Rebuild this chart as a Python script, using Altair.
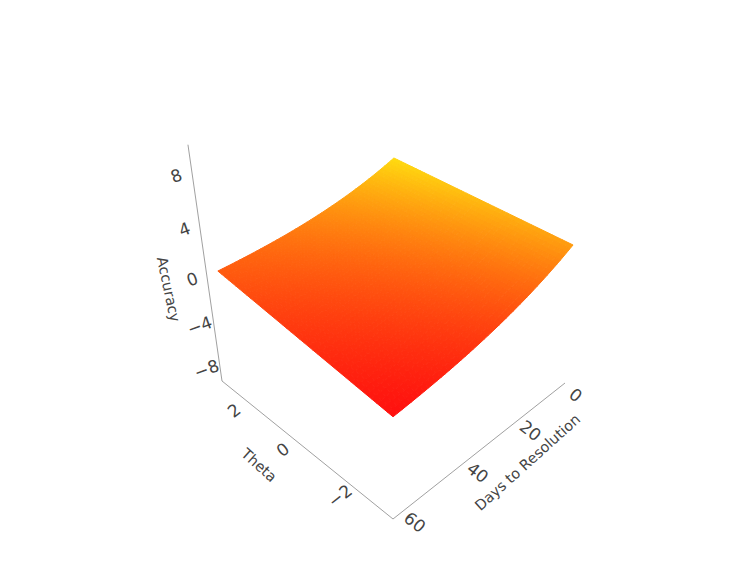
import altair as alt
import numpy as np
import pandas as pd

# ---- values ----
DAYS = [0, 10, 20, 30, 40, 50, 60]
ACC_THETA_LOW = [2.56, 1.22, 0.12, -0.80, -1.50, -2.05, -2.52]
ACC_THETA_HIGH = [4.84, 3.62, 2.62, 1.80, 1.15, 0.63, 0.22]
THETA_ENDS = [-3, 3]
DAY_TICKS = [0, 20, 40, 60]
THETA_TICKS = [-2, 0, 2]
ACC_TICKS = [-8, -4, 0, 4, 8]

# ---- axis ranges and the view (a projective camera) ----
DAY_RANGE = (62, -2)
THETA_RANGE = (-3.2, 3.2)
ACC_RANGE = (-10, 10)
W, H = 738, 551
TEXT = "#444444"
FONT = "DejaVu Sans"


def project(d, t, z):
    u = (DAY_RANGE[0] - d) / (DAY_RANGE[0] - DAY_RANGE[1])
    v = (t - THETA_RANGE[0]) / (THETA_RANGE[1] - THETA_RANGE[0])
    w = (z - ACC_RANGE[0]) / (ACC_RANGE[1] - ACC_RANGE[0])
    h = 1 + 0.3 * (u + v) - 0.2158 * w
    return (385 + (223.6 * u - 222.3 * v) / h,
            511 + (-176.8 * u - 179.4 * v - 226.4 * w) / h)


# surface mesh
low = np.poly1d(np.polyfit(DAYS, ACC_THETA_LOW, 3))
high = np.poly1d(np.polyfit(DAYS, ACC_THETA_HIGH, 3))
dd = np.linspace(DAYS[0], DAYS[-1], 49)
ss = np.linspace(0, 1, 41)
tt = THETA_ENDS[0] + ss * (THETA_ENDS[1] - THETA_ENDS[0])
features = []
for i in range(len(dd) - 1):
    for j in range(len(ss) - 1):
        corners = [(i, j), (i + 1, j), (i + 1, j + 1), (i, j + 1)]
        ring, zs = [], []
        for a, b in corners:
            z = float(low(dd[a]) * (1 - ss[b]) + high(dd[a]) * ss[b])
            x, y = project(dd[a], tt[b], z)
            ring.append([round(float(x), 2), round(float(y), 2)])
            zs.append(z)
        ring.append(ring[0])
        features.append({"type": "Feature",
                         "geometry": {"type": "Polygon", "coordinates": [ring]},
                         "properties": {"z": sum(zs) / 4}})

color_scale = alt.Scale(domain=[min(ACC_THETA_LOW), max(ACC_THETA_HIGH)],
                        range=["#ff0f0f", "#ffdc0f"], interpolate="rgb")
surface = (
    alt.Chart(alt.Data(values=features))
    .mark_geoshape(strokeWidth=1)
    .encode(
        color=alt.Color("properties.z:Q", scale=color_scale, legend=None),
        stroke=alt.Stroke("properties.z:Q", scale=color_scale, legend=None),
    )
    .project(type="identity", scale=1, translate=[0, 0])
)

xs = alt.Scale(domain=[0, W], nice=False, zero=False)
ys = alt.Scale(domain=[H, 0], nice=False, zero=False)
xe = alt.X("x:Q", scale=xs, axis=None)
ye = alt.Y("y:Q", scale=ys, axis=None)

# axis lines
path = [(DAY_RANGE[1], THETA_RANGE[0], ACC_RANGE[0]),
        (DAY_RANGE[0], THETA_RANGE[0], ACC_RANGE[0]),
        (DAY_RANGE[0], THETA_RANGE[1], ACC_RANGE[0]),
        (DAY_RANGE[0], THETA_RANGE[1], ACC_RANGE[1])]
axis_df = pd.DataFrame([{"i": i, "x": project(*p)[0], "y": project(*p)[1]}
                        for i, p in enumerate(path)])
axes = alt.Chart(axis_df).mark_line(color="#777777", strokeWidth=0.7).encode(
    x=xe, y=ye, order="i:Q")


def label_layer(rows, angle, size):
    return alt.Chart(pd.DataFrame(rows)).mark_text(
        font=FONT, fontSize=size, color=TEXT, angle=angle,
        align="center", baseline="middle",
    ).encode(x=xe, y=ye, text="label:N")


def fmt(v):
    return str(v).replace("-", "\u2212")


day_rows = []
for d in DAY_TICKS:
    x, y = project(d, THETA_RANGE[0], ACC_RANGE[0])
    day_rows.append({"x": x + 14.3, "y": y + 9.5, "label": fmt(d)})
theta_rows = []
for t in THETA_TICKS:
    x, y = project(DAY_RANGE[0], t, ACC_RANGE[0])
    theta_rows.append({"x": x - 13, "y": y + 9.5, "label": fmt(t)})
acc_rows = []
for z in ACC_TICKS:
    x, y = project(DAY_RANGE[0], THETA_RANGE[1], z)
    f = (z + 8) / 16
    acc_rows.append({"x": x - 12.3 - 3 * f, "y": y + 9 - 4.8 * f, "label": fmt(z)})

title_d = project(30, THETA_RANGE[0], ACC_RANGE[0])
title_t = project(DAY_RANGE[0], 0, ACC_RANGE[0])
title_a = project(DAY_RANGE[0], THETA_RANGE[1], 0)

layers = [
    surface,
    axes,
    label_layer(day_rows, 38, 17),
    label_layer(theta_rows, 322, 17),
    label_layer(acc_rows, 340, 17),
    label_layer([{"x": title_d[0] + 38, "y": title_d[1] + 21, "label": "Days to Resolution"}], 318, 14.5),
    label_layer([{"x": title_t[0] - 38, "y": title_t[1] + 25, "label": "Theta"}], 42, 14.5),
    label_layer([{"x": title_a[0] - 39, "y": title_a[1] + 16, "label": "Accuracy"}], 78, 14.5),
]

chart = alt.layer(*layers).properties(
    width=W, height=H, padding=0,
).configure_view(stroke=None)
chart.save("out.html", embed_options={"renderer": "svg", "actions": False})
